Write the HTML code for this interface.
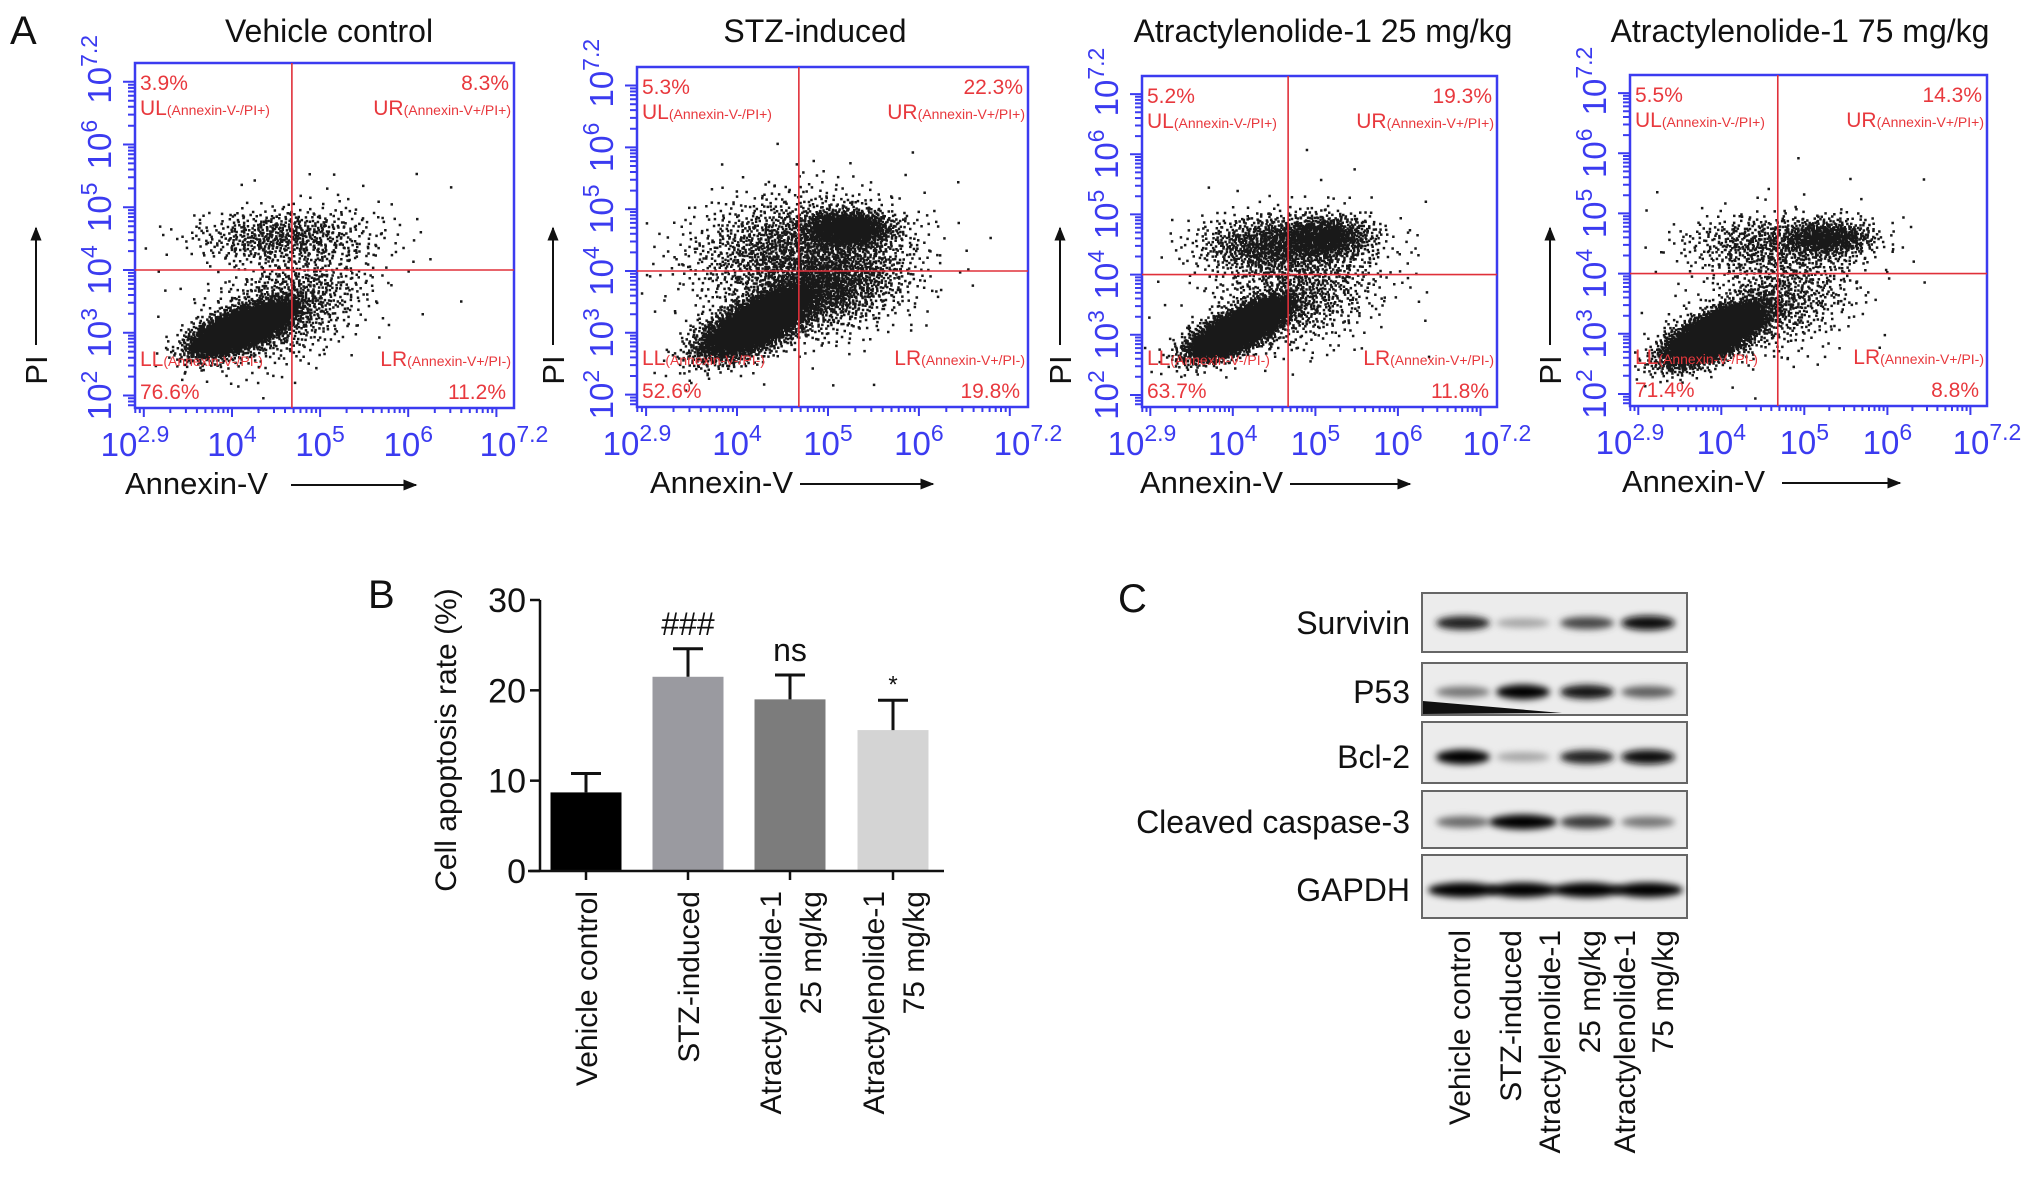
<!DOCTYPE html>
<html><head><meta charset="utf-8"><style>
html,body{margin:0;padding:0;background:#fff;}
svg{display:block;font-family:"Liberation Sans",Arial,sans-serif;}
</style></head><body>
<svg id="fig" width="2032" height="1186" viewBox="0 0 2032 1186" xmlns="http://www.w3.org/2000/svg">
<defs>
<filter id="blur3" x="-50%" y="-100%" width="200%" height="300%"><feGaussianBlur stdDeviation="3.5"/></filter>
<marker id="arr" viewBox="0 0 10 10" refX="9" refY="5" markerWidth="7" markerHeight="7" orient="auto"><path d="M0,1 L10,5 L0,9 z" fill="#111"/></marker>
</defs>
<text x="10" y="44" font-size="40" fill="#111">A</text>
<text x="368" y="608" font-size="40" fill="#111">B</text>
<text x="1118" y="612" font-size="40" fill="#111">C</text>
<g id="flow"></g>
<g id="bar"></g>
<g id="blot"></g>
</svg>
<script>
// ---------- Panel A data ----------
const flowTitles = ["Vehicle control","STZ-induced","Atractylenolide-1 25 mg/kg","Atractylenolide-1 75 mg/kg"];
const ulPct = [3.9,5.3,5.2,5.5];
const urPct = [8.3,22.3,19.3,14.3];
const llPct = [76.6,52.6,63.7,71.4];
const lrPct = [11.2,19.8,11.8,8.8];
const gateX = [4.68,4.68,4.67,4.68];
const gateY = [4.0,4.0,4.0,4.0];
const xTickVals = [2.9,4,5,6,7.2];
const xTickSup = ["2.9","4","5","6","7.2"];
const yTickVals = [2,3,4,5,6,7.2];
const yTickSup = ["2","3","4","5","6","7.2"];
// clusters: [cx, cy, sx, sy, rho, count] in log10 units
const clusters1 = [[4.05,3.05,0.26,0.2,0.6,3200],[4.3,3.2,0.2,0.16,0.6,1500],[4.6,3.4,0.45,0.45,0.4,900],[4.55,4.55,0.5,0.22,0.1,600],[4.9,4.2,0.6,0.6,0.2,150]];
const clusters2 = [[4.15,3.1,0.3,0.26,0.6,3000],[4.4,3.4,0.22,0.2,0.6,1500],[5.2,4.7,0.25,0.15,0.0,1200],[5.0,3.8,0.45,0.4,0.3,1500],[4.5,4.4,0.55,0.45,0.2,1200],[4.8,4.0,0.7,0.7,0.2,300]];
const clusters3 = [[4.0,3.05,0.28,0.22,0.65,3000],[4.3,3.3,0.2,0.18,0.6,1400],[5.1,4.65,0.3,0.18,0.0,800],[4.45,4.5,0.45,0.25,0.0,900],[4.8,3.7,0.5,0.45,0.3,800],[4.7,4.0,0.7,0.7,0.2,200]];
const clusters4 = [[3.85,2.95,0.28,0.23,0.6,3500],[4.1,3.2,0.22,0.18,0.6,1500],[5.25,4.6,0.3,0.16,0.0,700],[4.4,4.5,0.45,0.25,0.0,450],[4.7,3.6,0.45,0.45,0.3,700],[4.7,4.0,0.7,0.7,0.2,150]];
const flowClusters = [clusters1,clusters2,clusters3,clusters4];

// ---------- Panel B data ----------
const barCats = [["Vehicle control"],["STZ-induced"],["Atractylenolide-1","25 mg/kg"],["Atractylenolide-1","75 mg/kg"]];
const barVals = [8.7,21.5,19.0,15.6];
const barErr = [2.1,3.1,2.7,3.3];
const barSig = ["","###","ns","*"];
const barTicks = [0,10,20,30];

// ---------- Panel C data ----------
const blotProteins = ["Survivin","P53","Bcl-2","Cleaved caspase-3","GAPDH"];
const blotLanes = [["Vehicle control"],["STZ-induced"],["Atractylenolide-1","25 mg/kg"],["Atractylenolide-1","75 mg/kg"]];
const survivinInt = [0.85,0.3,0.7,0.95];
const p53Int = [0.5,1.0,0.9,0.6];
const bcl2Int = [1.0,0.3,0.85,0.95];
const casp3Int = [0.55,1.0,0.75,0.5];
const gapdhInt = [1.0,1.0,1.0,1.0];
const blotInts = [survivinInt,p53Int,bcl2Int,casp3Int,gapdhInt];

const NS="http://www.w3.org/2000/svg";
function mk(tag,attrs,parent){const e=document.createElementNS(NS,tag);for(const k in attrs)e.setAttribute(k,attrs[k]);if(parent)parent.appendChild(e);return e;}

// ----- Panel A -----
const flowLayout=[
 {x0:135,x1:514,y0:63,y1:408,tx:329,pix:36,ax:125,a1:291,a2:416},
 {x0:637,x1:1028,y0:67,y1:407,tx:815,pix:553,ax:650,a1:800,a2:933},
 {x0:1142,x1:1497,y0:76,y1:407,tx:1323,pix:1060,ax:1140,a1:1290,a2:1410},
 {x0:1630,x1:1987,y0:75,y1:406,tx:1800,pix:1550,ax:1622,a1:1782,a2:1900}];
const XMIN=2.9,XMAX=7.2,YMIN=1.8,YMAX=7.3;
function halton(i,b){let f=1,r=0;while(i>0){f/=b;r+=f*(i%b);i=Math.floor(i/b);}return r;}
const flowG=document.getElementById('flow');
flowLayout.forEach((L,p)=>{
  const g=mk('g',{},flowG);
  
  
  const sx=v=>L.x0+(v-XMIN)/(XMAX-XMIN)*(L.x1-L.x0);
  const sy=v=>L.y1-(v-YMIN)/(YMAX-YMIN)*(L.y1-L.y0);
  const t=mk('text',{x:L.tx,y:42,'font-size':32,'text-anchor':'middle',fill:'#111'},g);t.textContent=flowTitles[p];
  
  
  const dots=mk('g',{fill:'#000','fill-opacity':0.9},g);
  
  
  let idx=1+p*977;
  let path='';
  flowClusters[p].forEach(c=>{
    for(let k=0;k<c[5];k++){
      idx++;
      const u1=Math.max(halton(idx,2),1e-4),u2=halton(idx,3);
      const r=Math.sqrt(-2*Math.log(u1));
      const z1=r*Math.cos(2*Math.PI*u2),z2=r*Math.sin(2*Math.PI*u2);
      const xv=c[0]+c[2]*z1,yv=c[1]+c[3]*(c[4]*z1+Math.sqrt(1-c[4]*c[4])*z2);
      const px=sx(xv),py=sy(yv);
      if(px<L.x0+1||px>L.x1-3||py<L.y0+1||py>L.y1-3)continue;
      path+='M'+px.toFixed(1)+','+py.toFixed(1)+'h2.5v2.5h-2.5z';
    }
  });
  mk('path',{d:path},dots);
  const box=mk('rect',{x:L.x0,y:L.y0,width:L.x1-L.x0,height:L.y1-L.y0,fill:'none',stroke:'#3b3bf0','stroke-width':2.5},g);
  
  
  const gv=mk('line',{x1:sx(gateX[p]),x2:sx(gateX[p]),y1:L.y0,y2:L.y1,stroke:'#e0303a','stroke-width':1.6},g);
  
  
  const gh=mk('line',{x1:L.x0,x2:L.x1,y1:sy(gateY[p]),y2:sy(gateY[p]),stroke:'#e0303a','stroke-width':1.6},g);
  
  
  let tp='';
  for(let d=2;d<=7;d++){for(let m=1;m<10;m++){const v=d+Math.log10(m);if(v<XMIN||v>XMAX)continue;const len=m===1?9:5;tp+='M'+sx(v).toFixed(1)+','+L.y1+'v'+len;}}
  for(let d=1;d<=7;d++){for(let m=1;m<10;m++){const v=d+Math.log10(m);if(v<YMIN||v>YMAX)continue;const len=m===1?12:7;tp+='M'+L.x0+','+sy(v).toFixed(1)+'h-'+len;}}
  const tk=mk('path',{d:tp,stroke:'#3b3bf0','stroke-width':2},g);
  
  
  xTickVals.forEach((v,i)=>{
    const tx=mk('text',{x:sx(v),y:L.y1+48,'font-size':33,'text-anchor':'middle',fill:'#3b3bf0'},g);
    
    
    const a=mk('tspan',{},tx);a.textContent='10';
    const b=mk('tspan',{'font-size':23,dy:-14},tx);b.textContent=xTickSup[i];
  });
  yTickVals.forEach((v,i)=>{
    const ty=mk('text',{x:0,y:0,'font-size':33,'text-anchor':'middle',fill:'#3b3bf0',transform:'translate('+(L.x0-24)+','+sy(v)+') rotate(-90)'},g);
    
    
    const a=mk('tspan',{},ty);a.textContent='10';
    const b=mk('tspan',{'font-size':23,dy:-14},ty);b.textContent=yTickSup[i];
  });
  const xt=mk('text',{x:L.ax,y:L.y1+86,'font-size':31,fill:'#111'},g);xt.textContent='Annexin-V';
  
  
  mk('line',{x1:L.a1,x2:L.a2,y1:L.y1+77,y2:L.y1+77,stroke:'#111','stroke-width':2,'marker-end':'url(#arr)'},g);
  const yt=mk('text',{x:0,y:0,'font-size':31,fill:'#111','text-anchor':'middle',transform:'translate('+(L.pix+11)+',370) rotate(-90)'},g);yt.textContent='PI';
  
  
  mk('line',{x1:L.pix,x2:L.pix,y1:345,y2:228,stroke:'#111','stroke-width':2,'marker-end':'url(#arr)'},g);
  const red='#e8383d';
  function lab(x,y,anchor,big,small,name){
    const e=mk('text',{x:x,y:y,'font-size':21,fill:red,'text-anchor':anchor},g);
    
    
    const a=mk('tspan',{},e);a.textContent=big;
    if(small){const b=mk('tspan',{'font-size':14},e);b.textContent=small;}
  }
  lab(L.x0+5,L.y0+27,'start',ulPct[p]+'%','','ul-percent');
  lab(L.x1-5,L.y0+27,'end',urPct[p]+'%','','ur-percent');
  lab(L.x0+5,L.y0+52,'start','UL','(Annexin-V-/PI+)','ul-label');
  lab(L.x1-3,L.y0+52,'end','UR','(Annexin-V+/PI+)','ur-label');
  lab(L.x0+5,L.y1-42,'start','LL','(Annexin-V-/PI-)','ll-label');
  lab(L.x1-3,L.y1-42,'end','LR','(Annexin-V+/PI-)','lr-label');
  lab(L.x0+5,L.y1-9,'start',llPct[p]+'%','','ll-percent');
  lab(L.x1-8,L.y1-9,'end',lrPct[p]+'%','','lr-percent');
});

// ----- Panel B -----
(function(){
  const g=document.getElementById('bar');
  const X0=540,X1=944,Y0=871,Y30=600;
  const ys=v=>Y0-(v/30)*(Y0-Y30);
  const centers=[586,688,790,893],BW=71;
  const fills=['#000','#9a9aa0','#7c7c7c','#d4d4d4'];
  barVals.forEach((v,i)=>{
    const r=mk('rect',{x:centers[i]-BW/2,y:ys(v),width:BW,height:Y0-ys(v),fill:fills[i]},g);
    
    
    const e=mk('path',{d:'M'+centers[i]+','+ys(v)+'V'+ys(v+barErr[i])+'M'+(centers[i]-15)+','+ys(v+barErr[i])+'H'+(centers[i]+15),stroke:'#111','stroke-width':3,fill:'none'},g);
    
    
    if(barSig[i]){
      const s=mk('text',{x:centers[i],y:ys(v+barErr[i])-(barSig[i]==='*'?8:14),'font-size':barSig[i]==='*'?24:32,'text-anchor':'middle',fill:'#111'},g);
      s.textContent=barSig[i];
      
      
    }
    const lines=barCats[i];
    lines.forEach((ln,j)=>{
      const off=(j-(lines.length-1)/2)*40;
      const t=mk('text',{x:0,y:0,'font-size':30,'text-anchor':'end',fill:'#111',transform:'translate('+(centers[i]+off+11)+','+(Y0+20)+') rotate(-90)'},g);
      t.textContent=ln;
      
      
    });
    mk('line',{x1:centers[i],x2:centers[i],y1:Y0,y2:Y0+9,stroke:'#111','stroke-width':2.5},g);
  });
  const ax=mk('path',{d:'M'+X0+','+ys(30)+'V'+Y0+'M'+(X0-12)+','+Y0+'H'+X1,stroke:'#111','stroke-width':2.5,fill:'none'},g);
  
  
  barTicks.forEach(v=>{
    mk('line',{x1:X0-10,x2:X0,y1:ys(v),y2:ys(v),stroke:'#111','stroke-width':2.5},g);
    const t=mk('text',{x:X0-14,y:ys(v)+12,'font-size':34,'text-anchor':'end',fill:'#111'},g);
    t.textContent=v;
    
    
  });
  const yt=mk('text',{x:0,y:0,'font-size':30,'text-anchor':'middle',fill:'#111',transform:'translate(456,740) rotate(-90)'},g);
  yt.textContent='Cell apoptosis rate (%)';
  
  
})();

// ----- Panel C -----
(function(){
  const g=document.getElementById('blot');
  const BX0=1422,BX1=1687;
  const rows=[[593,652,623],[663,715,692],[722,783,757],[791,848,822],[855,918,890]];
  const lanes=[1463,1523,1587,1648];
  rows.forEach((r,i)=>{
    const rg=mk('g',{},g);
    
    
    mk('rect',{x:BX0,y:r[0],width:BX1-BX0,height:r[1]-r[0],fill:'#ececec',stroke:'#666','stroke-width':2},rg);
    blotInts[i].forEach((v,j)=>{
      const w=i===4?62:(i===3&&j===1?60:46);
      const h=i===4?13:(5+8*v);
      const gray=Math.round(235-235*v);
      const e=mk('ellipse',{cx:lanes[j],cy:r[2],rx:w/2+4,ry:h/2+1,fill:'rgb('+gray+','+gray+','+gray+')',filter:'url(#blur3)'},rg);
      
      
    });
    if(i===1)mk('path',{d:'M'+(BX0+1)+','+(r[1]-14)+'L'+(BX0+140)+','+(r[1]-2)+'L'+(BX0+1)+','+(r[1]-1)+'z',fill:'#111'},rg);
    const t=mk('text',{x:1410,y:r[2]+11,'font-size':32,'text-anchor':'end',fill:'#111'},rg);
    t.textContent=blotProteins[i];
    
    
  });
  const lx=[[1470],[1521],[1560,1600],[1635,1673]];
  blotLanes.forEach((ls,j)=>{
    ls.forEach((ln,k)=>{
      const t=mk('text',{x:0,y:0,'font-size':30,'text-anchor':'end',fill:'#111',transform:'translate('+lx[j][k]+',930) rotate(-90)'},g);
      t.textContent=ln;
      
      
    });
  });
})();
</script>
</body></html>
